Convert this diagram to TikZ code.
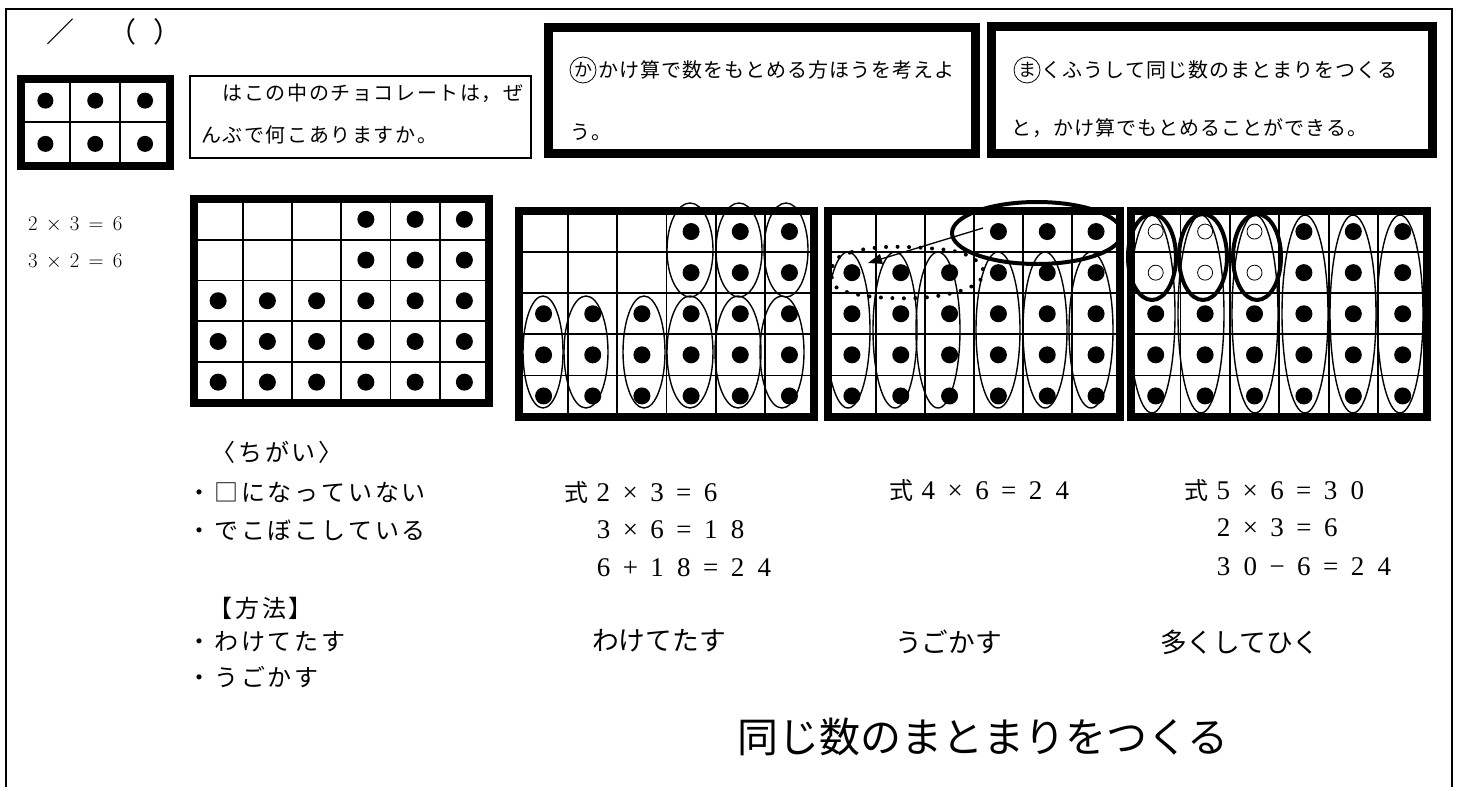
\documentclass[tikz,border=0pt]{standalone}
\usepackage{fontspec}
\usetikzlibrary{arrows.meta}
\newfontfamily\jp{Noto Sans CJK JP}
\newfontfamily\sr{Liberation Serif}
\newlength\fwpitch
\def\fwstop{fwstop}
\def\fwx#1{\ifx\fwstop#1\else\makebox[\fwpitch]{#1}\expandafter\fwx\fi}
\newcommand\fw[2]{\setlength\fwpitch{#1}\fwx#2\fwstop}
\newcommand\shiki{{\jp\fontsize{24}{28}\selectfont 式}}
\tikzset{
  gline/.style={line width=1.8pt},
  gborder/.style={line width=8pt},
  ring/.style={line width=1.4pt},
  thickring/.style={line width=4pt},
  qtext/.style={anchor=west,inner sep=0pt,font=\jp\fontsize{20}{24}\selectfont},
  btext/.style={anchor=west,inner sep=0pt,font=\jp\fontsize{24}{28}\selectfont},
  ftext/.style={anchor=west,inner sep=0pt,font=\sr\fontsize{27}{30}\selectfont},
  gtext/.style={anchor=west,inner sep=0pt,font=\jp\fontsize{26.7}{30}\selectfont},
  marktext/.style={inner sep=0pt,font=\jp\fontsize{28}{32}\selectfont},
  maru/.style={circle,draw,line width=0.8pt,inner sep=0pt,minimum size=26pt,font=\jp\fontsize{18}{20}\selectfont},
}
\newcommand\cellgrid[6]{% x0 y0 dx dy cols rows
  \foreach \i in {1,...,\numexpr#5-1\relax} \draw[gline] ({#1+\i*#3},#2) -- ({#1+\i*#3},{#2+#6*#4});
  \foreach \j in {1,...,\numexpr#6-1\relax} \draw[gline] (#1,{#2+\j*#4}) -- ({#1+#5*#3},{#2+\j*#4});
  \draw[gborder] (#1,#2) rectangle ({#1+#5*#3},{#2+#6*#4});
}
\newcommand\choco[6]{% x0 y0 dx dy col row
  \fill ({#1+(#5-0.5)*#3},{#2+(#6-0.5)*#4}) circle[radius=8.5];
}
\newcommand\hollow[6]{%
  \draw[line width=0.8pt] ({#1+(#5-0.5)*#3},{#2+(#6-0.5)*#4}) circle[radius=7.5];
}
\begin{document}
\begin{tikzpicture}[x=1pt,y=-1pt]
\useasboundingbox (0,0) rectangle (1459,787);
% outer frame
\draw[line width=1.5pt] (6,787) -- (6,9) -- (1452,9) -- (1452,787);
% top-left marks
\node[marktext] (sl) at (60,32) {／};
\node[marktext] (pl) at (122,32) {（};
\node[marktext] (pr) at (167,32) {）};
% small grid
\cellgrid{20.5}{79}{49.83}{43.25}{3}{2}
\foreach \c in {1,2,3} \foreach \r in {1,2} {\fill ({20.5+(\c-0.5)*49.83},{79+(\r-0.5)*43.25}) circle[radius=8];}
% question box
\draw[line width=1.5pt] (190,76) rectangle (531,158);
\node[qtext] (q1) at (200,93) {\fw{21.6pt}{　はこの中のチョコレートは，ぜ}};
\node[qtext] (q2) at (200,135) {\fw{21.6pt}{んぶで何こありますか。}};
% ka box
\draw[line width=9pt] (548.5,27.5) rectangle (975.5,153.5);
\node[maru] (ka) at (583,70) {か};
\node[qtext] (k1) at (598,70) {\fw{21pt}{かけ算で数をもとめる方ほうを考えよ}};
\node[qtext] (k2) at (570,132) {\fw{21pt}{う。}};
% ma box
\draw[line width=9pt] (991.5,26.5) rectangle (1432.5,153.5);
\node[maru] (ma) at (1027,70) {ま};
\node[qtext] (m1) at (1041,70) {\fw{21pt}{くふうして同じ数のまとまりをつくる}};
\node[qtext] (m2) at (1011,128) {\fw{21pt}{と，かけ算でもとめることができる。}};
% left formulas
\node[anchor=west,inner sep=0pt,font=\fontsize{20}{24}\selectfont] (e1) at (28,225) {$2\,\times\,3\,=\,6$};
\node[anchor=west,inner sep=0pt,font=\fontsize{20}{24}\selectfont] (e2) at (28,262) {$3\,\times\,2\,=\,6$};
% grid 1
\def\ga{193.5}\def\gb{199}\def\gc{49.25}\def\gd{40.7}
\cellgrid{\ga}{\gb}{\gc}{\gd}{6}{5}
\foreach \c in {4,5,6} \foreach \r in {1,2} {\choco{\ga}{\gb}{\gc}{\gd}{\c}{\r}}
\foreach \c in {1,...,6} \foreach \r in {3,4,5} {\choco{\ga}{\gb}{\gc}{\gd}{\c}{\r}}
% grid 2
\def\ga{519}\def\gb{211}\def\gc{49.17}\def\gd{41.1}
\cellgrid{\ga}{\gb}{\gc}{\gd}{6}{5}
\foreach \c in {4,5,6} \foreach \r in {1,2} {\choco{\ga}{\gb}{\gc}{\gd}{\c}{\r}}
\foreach \c in {1,...,6} \foreach \r in {3,4,5} {\choco{\ga}{\gb}{\gc}{\gd}{\c}{\r}}
\foreach \x/\rx in {690/23,739/23,786/22} \draw[ring] (\x,250) ellipse[x radius=\rx,y radius=47];
\foreach \x/\rx in {543/20,586/22,644/21,690/23,738/23,782/22} \draw[ring] (\x,352) ellipse[x radius=\rx,y radius=56];
% grid 3
\def\ga{827.5}\def\gb{211}\def\gc{48.83}\def\gd{41.1}
\cellgrid{\ga}{\gb}{\gc}{\gd}{6}{5}
\foreach \c in {4,5,6} {\choco{\ga}{\gb}{\gc}{\gd}{\c}{1}}
\foreach \c in {1,...,6} \foreach \r in {2,3,4,5} {\choco{\ga}{\gb}{\gc}{\gd}{\c}{\r}}
\foreach \x in {848,895,938,998,1045,1091} \draw[ring] (\x,330) ellipse[x radius=22,y radius=78];
\draw[thickring] (1037,233) ellipse[x radius=85,y radius=31];
\draw[line width=4pt,dash pattern=on 0pt off 11.5pt,line cap=round]
  plot[smooth cycle,tension=0.6] coordinates {(834,262) (852,252) (885,247) (925,248) (958,252) (978,262) (983,276) (966,289) (930,297) (890,298) (855,294) (834,285)};
\coordinate (as) at (983,228);
\coordinate (ae) at (868,263);
\draw[line width=1.3pt,-{Triangle[length=14pt,width=10pt]}] (as) -- (ae);
% grid 4
\def\ga{1131}\def\gb{211}\def\gc{49.4}\def\gd{41.1}
\cellgrid{\ga}{\gb}{\gc}{\gd}{6}{5}
\foreach \c in {1,2,3} \foreach \r in {1,2} {\hollow{\ga}{\gb}{\gc}{\gd}{\c}{\r}}
\foreach \c in {4,5,6} \foreach \r in {1,2} {\choco{\ga}{\gb}{\gc}{\gd}{\c}{\r}}
\foreach \c in {1,...,6} \foreach \r in {3,4,5} {\choco{\ga}{\gb}{\gc}{\gd}{\c}{\r}}
\foreach \x in {1152,1201,1255,1305,1353,1400} \draw[ring] (\x,314) ellipse[x radius=23,y radius=99];
\foreach \x in {1152,1203,1257} \draw[thickring] (\x,257) ellipse[x radius=24,y radius=43];
% bottom-left texts
\node[btext] (t1) at (210,452) {\fw{26.8pt}{〈ちがい〉}};
\node[btext] (t2) at (186,492) {\fw{26.8pt}{・□になっていない}};
\node[btext] (t3) at (186,530) {\fw{26.8pt}{・でこぼこしている}};
\node[btext] (t4) at (207,608) {\fw{26.8pt}{【方法】}};
\node[btext] (t5) at (186,642) {\fw{26.8pt}{・わけてたす}};
\node[btext] (t6) at (186,677) {\fw{26.8pt}{・うごかす}};
% formulas
\node[ftext] (f1) at (563,492) {\fw{26.8pt}{\shiki2×3=6}};
\node[ftext] (f2) at (590,530) {\fw{26.8pt}{3×6=18}};
\node[ftext] (f3) at (590,568) {\fw{26.8pt}{6+18=24}};
\node[ftext] (f4) at (888,490) {\fw{26.8pt}{\shiki4×6=24}};
\node[ftext] (f5) at (1183,490) {\fw{26.8pt}{\shiki5×6=30}};
\node[ftext] (f6) at (1210,528) {\fw{26.8pt}{2×3=6}};
\node[ftext] (f7) at (1210,567) {\fw{26.8pt}{30−6=24}};
% method labels
\node[gtext] (w1) at (592,641) {わけてたす};
\node[gtext] (w2) at (895,642) {うごかす};
\node[gtext] (w3) at (1160,642) {多くしてひく};
% big title
\node[anchor=west,inner sep=0pt,font=\jp\fontsize{41}{48}\selectfont] (title) at (737,737) {同じ数のまとまりをつくる};
\end{tikzpicture}
\end{document}
